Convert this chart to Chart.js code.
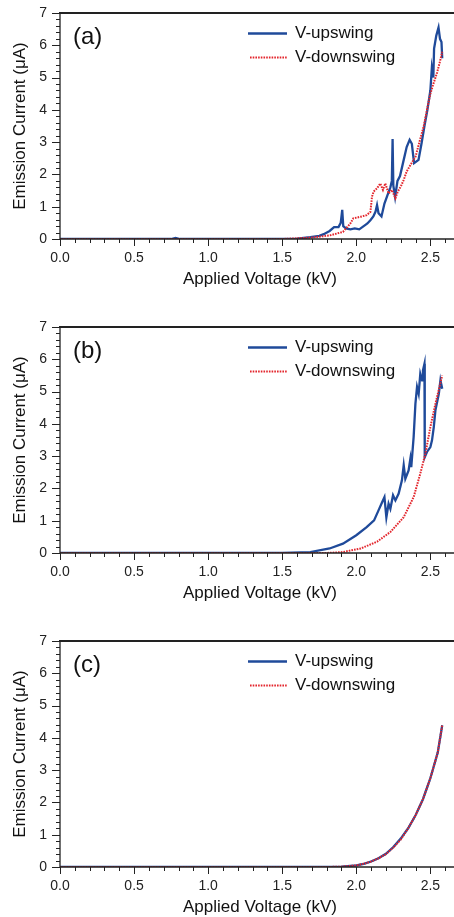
<!DOCTYPE html>
<html>
<head>
<meta charset="utf-8">
<script src="https://cdn.jsdelivr.net/npm/chart.js@4.4.0/dist/chart.umd.min.js"></script>
<style>
html, body { margin: 0; padding: 0; background: #fff; overflow: hidden; width: 454px; height: 917px; }
.panel { position: absolute; left: 0; width: 460px; height: 292px; }
</style>
</head>
<body>
<div class="panel" style="top:-1px"><canvas id="chartA" width="460" height="292"></canvas></div>
<div class="panel" style="top:313px"><canvas id="chartB" width="460" height="292"></canvas></div>
<div class="panel" style="top:627px"><canvas id="chartC" width="460" height="292"></canvas></div>
<script>
// series names, axis text, tick labels
var seriesNames = ['V-upswing', 'V-downswing'];
var panelLabels = ['(a)', '(b)', '(c)'];
var xTitle = 'Applied Voltage (kV)';
var yTitle = 'Emission Current (\u03bcA)';
var xTickLabels = ['0.0', '0.5', '1.0', '1.5', '2.0', '2.5'];
var yTickLabels = ['0', '1', '2', '3', '4', '5', '6', '7'];

// (a) voltage (kV) / current (uA)
var voltUpA = [0, 0.5, 0.75, 0.78, 0.81, 1.0, 1.5, 1.6, 1.69, 1.75, 1.78, 1.82, 1.85, 1.88, 1.895, 1.905, 1.912, 1.93, 1.96, 1.99, 2.02, 2.05, 2.075, 2.095, 2.115, 2.13, 2.14, 2.15, 2.17, 2.19, 2.21, 2.23, 2.24, 2.245, 2.25, 2.262, 2.278, 2.295, 2.315, 2.34, 2.36, 2.375, 2.39, 2.42, 2.44, 2.46, 2.48, 2.5, 2.51, 2.52, 2.525, 2.54, 2.555, 2.565, 2.575, 2.58];
var currUpA = [0, 0, 0, 0.03, 0, 0, 0, 0.01, 0.06, 0.1, 0.15, 0.25, 0.37, 0.37, 0.5, 0.9, 0.4, 0.33, 0.3, 0.33, 0.3, 0.4, 0.48, 0.58, 0.7, 0.85, 1.05, 0.8, 0.7, 1.1, 1.35, 1.6, 1.8, 3.1, 1.65, 1.3, 1.8, 1.95, 2.35, 2.85, 3.07, 2.95, 2.35, 2.45, 2.95, 3.5, 4.0, 4.6, 5.3, 5.0, 5.9, 6.3, 6.55, 6.2, 6.1, 5.6];
var voltDownA = [0, 0.5, 1.0, 1.5, 1.69, 1.82, 1.91, 1.96, 1.98, 2.03, 2.07, 2.095, 2.106, 2.117, 2.14, 2.162, 2.18, 2.196, 2.218, 2.24, 2.264, 2.28, 2.3, 2.32, 2.34, 2.365, 2.4, 2.43, 2.455, 2.477, 2.5, 2.52, 2.545, 2.565, 2.58];
var currDownA = [0, 0, 0, 0, 0.04, 0.11, 0.22, 0.48, 0.64, 0.69, 0.74, 0.84, 1.31, 1.47, 1.57, 1.72, 1.52, 1.72, 1.41, 1.52, 1.26, 1.47, 1.62, 1.83, 2.09, 2.29, 2.55, 3.07, 3.49, 4.0, 4.5, 4.8, 5.15, 5.5, 5.8];

// (b)
var voltUpB = [0, 0.5, 1.0, 1.5, 1.69, 1.82, 1.91, 2.0, 2.07, 2.12, 2.15, 2.175, 2.19, 2.203, 2.218, 2.23, 2.248, 2.264, 2.286, 2.308, 2.32, 2.331, 2.353, 2.365, 2.371, 2.387, 2.399, 2.41, 2.421, 2.432, 2.444, 2.45, 2.46, 2.462, 2.477, 2.5, 2.511, 2.523, 2.534, 2.557, 2.568, 2.58];
var currUpB = [0, 0, 0, 0, 0.03, 0.14, 0.29, 0.55, 0.8, 1.01, 1.32, 1.58, 1.73, 1.1, 1.53, 1.37, 1.79, 1.63, 1.84, 2.25, 2.72, 2.3, 2.56, 2.92, 2.66, 3.59, 4.62, 5.14, 4.93, 5.55, 5.35, 5.66, 5.86, 2.97, 3.13, 3.28, 3.49, 3.9, 4.42, 4.93, 5.35, 5.09];
var voltDownB = [0, 0.5, 1.0, 1.5, 1.8, 1.91, 2.03, 2.14, 2.23, 2.32, 2.387, 2.432, 2.466, 2.5, 2.534, 2.58];
var currDownB = [0, 0, 0, 0, 0, 0.03, 0.14, 0.35, 0.65, 1.11, 1.73, 2.46, 3.07, 3.9, 4.62, 5.5];

// (c)
var voltUpC = [0, 0.5, 1.0, 1.5, 1.8, 1.9, 2.0, 2.05, 2.1, 2.15, 2.2, 2.25, 2.3, 2.35, 2.4, 2.45, 2.5, 2.55, 2.58];
var currUpC = [0, 0, 0, 0, 0, 0.01, 0.05, 0.1, 0.17, 0.27, 0.41, 0.62, 0.88, 1.2, 1.6, 2.1, 2.75, 3.55, 4.39];
var voltDownC = [0, 0.5, 1.0, 1.5, 1.8, 1.9, 2.0, 2.05, 2.1, 2.15, 2.2, 2.25, 2.3, 2.35, 2.4, 2.45, 2.5, 2.55, 2.58];
var currDownC = [0, 0, 0, 0, 0, 0.01, 0.05, 0.1, 0.17, 0.27, 0.4, 0.6, 0.85, 1.2, 1.6, 2.1, 2.75, 3.55, 4.39];

var blue = '#1f4a9a';
var red = '#e3262d';
var ink = '#222';
var family = '"Liberation Sans", Arial, Helvetica, sans-serif';

function pts(xs, ys) {
    return xs.map(function (x, i) { return {x: x, y: ys[i]}; });
}

// box, outward ticks, legend and panel letter
var decorations = {
    id: 'decorations',
    afterDraw: function (chart) {
        var c = chart.ctx, a = chart.chartArea;
        var xs = chart.scales.x, ys = chart.scales.y;
        c.save();
        c.strokeStyle = ink;
        c.lineWidth = 1.3;
        c.beginPath();
        c.moveTo(a.left, a.top); c.lineTo(a.left, a.bottom); c.lineTo(a.right, a.bottom); c.lineTo(a.right, a.top);
        c.stroke();
        c.lineWidth = 2.2;
        c.beginPath(); c.moveTo(a.left - 1, a.top); c.lineTo(a.right, a.top); c.stroke();
        c.lineWidth = 1;
        c.beginPath();
        for (var i = 0; i <= 27; i++) {
            var px = Math.round(xs.getPixelForValue(i / 10)) + 0.5;
            c.moveTo(px, a.bottom);
            c.lineTo(px, a.bottom + (i % 5 === 0 ? 7 : 4));
        }
        for (var j = 0; j <= 35; j++) {
            var py = Math.round(ys.getPixelForValue(j / 5)) + 0.5;
            c.moveTo(a.left, py);
            c.lineTo(a.left - (j % 5 === 0 ? 8 : 4), py);
        }
        c.stroke();

        var o = chart.options.plugins.decorations;
        c.fillStyle = '#111';
        c.textBaseline = 'middle';
        c.font = '24px ' + family;
        c.fillText(o.letter, a.left + 13, a.top + 24.5);

        c.font = '17px ' + family;
        c.lineWidth = 2.3;
        c.strokeStyle = blue;
        c.beginPath(); c.moveTo(248, a.top + 20.5); c.lineTo(287, a.top + 20.5); c.stroke();
        c.fillText(seriesNames[0], 295, a.top + 20.5);
        c.strokeStyle = red;
        c.lineWidth = 2;
        c.setLineDash([1.6, 1.1]);
        c.beginPath(); c.moveTo(250, a.top + 44.5); c.lineTo(287, a.top + 44.5); c.stroke();
        c.setLineDash([]);
        c.fillText(seriesNames[1], 295, a.top + 44.5);
        c.restore();
    }
};

function makeChart(id, letter, vu, cu, vd, cd) {
    return new Chart(document.getElementById(id), {
        type: 'line',
        data: {
            datasets: [{
                label: seriesNames[0],
                data: pts(vu, cu),
                borderColor: blue,
                borderWidth: 2.3,
                pointRadius: 0,
                tension: 0,
                fill: false,
                order: 1
            }, {
                label: seriesNames[1],
                data: pts(vd, cd),
                borderColor: red,
                borderWidth: 2,
                borderDash: [1.6, 1.1],
                pointRadius: 0,
                tension: 0,
                fill: false,
                order: 0
            }]
        },
        plugins: [decorations],
        options: {
            responsive: false,
            animation: false,
            layout: {padding: {top: 14, right: 0, bottom: 0, left: 0}},
            plugins: {
                legend: {display: false},
                tooltip: {enabled: false},
                decorations: {letter: letter}
            },
            scales: {
                x: {
                    type: 'linear',
                    min: 0,
                    max: 2.7,
                    grid: {display: false, drawTicks: false},
                    border: {display: false},
                    ticks: {
                        stepSize: 0.5,
                        includeBounds: false,
                        padding: 11,
                        color: ink,
                        font: {family: family, size: 14},
                        callback: function (v) { return xTickLabels[Math.round(v * 2)]; }
                    },
                    title: {display: true, text: xTitle, color: '#111', font: {family: family, size: 17}, padding: {top: 0, bottom: 1}},
                    afterFit: function (s) { s.height = 52; s.paddingLeft = 0; s.paddingRight = 0; }
                },
                y: {
                    min: 0,
                    max: 7,
                    grid: {display: false, drawTicks: false},
                    border: {display: false},
                    ticks: {
                        stepSize: 1,
                        padding: 13,
                        color: ink,
                        font: {family: family, size: 14},
                        callback: function (v) { return yTickLabels[Math.round(v)]; }
                    },
                    title: {display: true, text: yTitle, color: '#111', font: {family: family, size: 17}, padding: {top: 10, bottom: 0}},
                    afterFit: function (s) { s.width = 60; s.paddingTop = 0; s.paddingBottom = 0; }
                }
            }
        }
    });
}

makeChart('chartA', panelLabels[0], voltUpA, currUpA, voltDownA, currDownA);
makeChart('chartB', panelLabels[1], voltUpB, currUpB, voltDownB, currDownB);
makeChart('chartC', panelLabels[2], voltUpC, currUpC, voltDownC, currDownC);
</script>
</body>
</html>
